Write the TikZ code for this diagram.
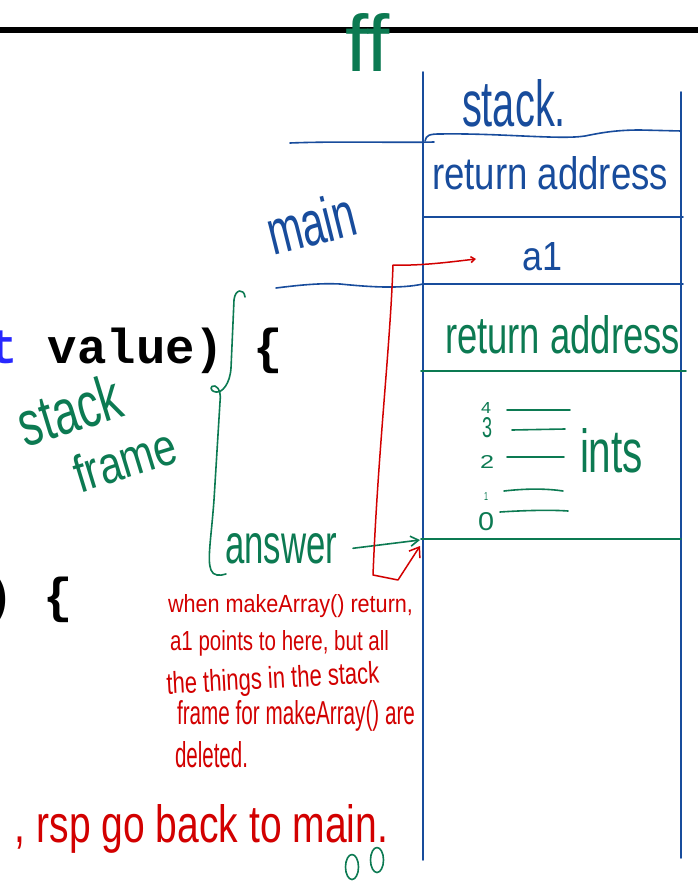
\documentclass[tikz,border=0pt]{standalone}
\usepackage{fontspec}
\setmainfont{Liberation Sans}
\newfontfamily\codefont{Liberation Mono}
\usepackage{graphicx}
\usetikzlibrary{arrows.meta}
\definecolor{inkblue}{RGB}{24,76,156}
\definecolor{inkgreen}{RGB}{12,122,82}
\definecolor{inkred}{RGB}{210,0,0}
\definecolor{codeblue}{RGB}{40,40,255}
\newcommand{\hw}[3]{\resizebox{#1pt}{#2pt}{#3}}
\begin{document}
\begin{tikzpicture}[x=1pt,y=-1pt,
  hw/.style={inner sep=0pt, outer sep=0pt, anchor=base west},
  code/.style={hw, font=\codefont\bfseries\fontsize{49}{49}\selectfont},
  blueline/.style={draw=inkblue, line width=1.6pt, line cap=round, line join=round},
  greenline/.style={draw=inkgreen, line width=1.6pt, line cap=round, line join=round},
  redline/.style={draw=inkred, line width=1.5pt, line cap=round, line join=round},
  bluetext/.style={hw, text=inkblue},
  greentext/.style={hw, text=inkgreen},
  redtext/.style={hw, text=inkred}]
\useasboundingbox (0,0) rectangle (698,882);
\fill[white] (0,0) rectangle (698,882);

% top rule
\draw[line width=6pt, black] (0,30) -- (698,30);

% code fragments
\node[code] (code1) at (-11,363) {\textcolor{codeblue}{t} value) \{};
\node[code] (code2) at (-15,612) {) \{};

% stack columns
\draw[blueline] (423,72) -- (423,860);
\draw[blueline] (681,92) -- (681,858);
\draw[blueline] (425,141) .. controls (426,135) and (430,134) .. (440,134)
  .. controls (500,133) and (560,140) .. (585,136)
  .. controls (600,133) and (615,130) .. (640,130) -- (681,131);
\draw[blueline] (290,143) .. controls (340,141) and (400,143) .. (434,142);
\draw[blueline] (423,217) -- (683,217);
\draw[blueline] (423,284) -- (683,284);
\draw[blueline] (276,288) .. controls (300,285) and (320,283) .. (340,284)
  .. controls (370,287) and (400,289) .. (423,284);
\draw[greenline] (421,371) -- (686,371);
\draw[greenline] (421,539) -- (681,539);

% blue labels
\node[bluetext] (stack) at (462,127) {\hw{104}{47}{stack.}};
\node[bluetext] (ret1) at (432,190) {\hw{236}{33}{return address}};
\node[bluetext, rotate=14] (main) at (273,256) {\hw{90}{46}{main}};
\node[bluetext] (a1) at (522,270) {\hw{40}{28}{a1}};

% green labels
\node[greentext] (ff) at (345,72) {\hw{45}{58}{ff}};
\node[greentext] (ret2) at (445,353) {\hw{235}{38}{return address}};
\node[greentext] (ints) at (580,472) {\hw{63}{44}{ints}};
\node[greentext] (d4) at (481,413) {\hw{10}{11}{4}};
\node[greentext] (d3) at (482,437) {\hw{10}{20}{3}};
\node[greentext] (d2) at (480,468) {\hw{14}{13}{2}};
\node[greentext] (d1) at (484,500) {\hw{4}{8}{1}};
\node[greentext] (d0) at (478,530) {\hw{16}{18}{0}};
\draw[greenline] (507,410) -- (570,410);
\draw[greenline] (512,430) -- (565,429);
\draw[greenline] (507,457) -- (564,457);
\draw[greenline] (504,491) .. controls (530,488) and (550,489) .. (563,491);
\draw[greenline] (500,512) .. controls (530,510) and (555,510) .. (568,511);
\node[greentext, rotate=17] (stackw) at (26,447) {\hw{105}{46}{stack}};
\node[greentext, rotate=17] (frame) at (80,493) {\hw{105}{38}{frame}};
\node[greentext] (answer) at (225,563) {\hw{112}{30}{answer}};

% green brace
\draw[greenline] (245,297) .. controls (244,288) and (235,289) .. (234,300)
  -- (231,368) .. controls (230,384) and (222,393) .. (216,392)
  .. controls (209,391) and (210,385) .. (215,386)
  .. controls (220,388) and (221,395) .. (220,402)
  -- (214,500) .. controls (211,540) and (207,560) .. (211,570)
  .. controls (213,576) and (220,576) .. (226,574);

% answer arrow
\coordinate (ansTip) at (420,540);
\draw[greenline, -{Straight Barb[length=8pt,width=10pt]}] ([xshift=16pt]answer.east) -- (ansTip);

% red pointer
\coordinate (redTop) at (476,259);
\coordinate (redBot) at (420,546);
\draw[redline, {Straight Barb[length=4pt,width=6pt]}-{Straight Barb[length=9pt,width=13pt]}]
  (redTop) .. controls (450,262) and (420,266) .. (393,265)
  .. controls (390,350) and (378,450) .. (373,575)
  -- (398,580) -- (redBot);

% red notes
\node[redtext] (n1) at (168,612) {\hw{245}{18}{when makeArray() return,}};
\node[redtext] (n2) at (170,650) {\hw{219}{20}{a1 points to here, but all}};
\node[redtext, rotate=3] (n3) at (167,694) {\hw{213}{22}{the things in the stack}};
\node[redtext] (n4) at (177,724) {\hw{238}{24}{frame for makeArray() are}};
\node[redtext] (n5) at (175,767) {\hw{73}{26}{deleted.}};
\node[redtext] (rsp) at (15,842) {\hw{373}{38}{, rsp go back to main.}};

% green eyes
\draw[greenline] (352,867) ellipse [x radius=6.5, y radius=12.5];
\draw[greenline] (377,860) ellipse [x radius=6.5, y radius=12.5];
\end{tikzpicture}
\end{document}
